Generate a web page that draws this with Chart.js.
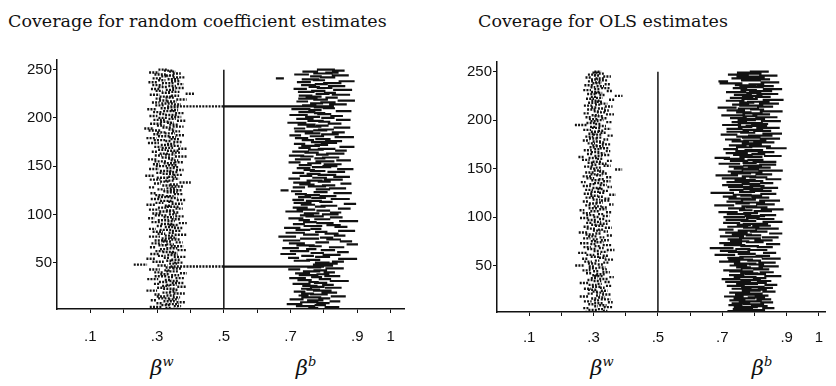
<!DOCTYPE html>
<html>
<head>
<meta charset="utf-8">
<script src="https://cdn.jsdelivr.net/npm/chart.js@4.4.0/dist/chart.umd.min.js"></script>
<style>
  body { margin: 0; background: #fff; width: 836px; height: 386px; overflow: hidden; position: relative; }
  .title { position: absolute; top: 11px; font-family: "DejaVu Serif", serif; font-size: 17.5px; white-space: nowrap; color: #111; }
  .box { position: absolute; top: 50px; height: 300px; }
  .beta { position: absolute; top: 354px; transform: translateX(-50%); font-family: "DejaVu Serif", serif; font-style: italic; font-size: 21px; color: #111; white-space: nowrap; }
  .beta sup { font-size: 13px; vertical-align: 9px; }
</style>
</head>
<body>
<div class="title" style="left:8px">Coverage for random coefficient estimates</div>
<div class="title" style="left:478px">Coverage for OLS estimates</div>

<div class="box" style="left:0; width:420px"><canvas id="rcChart"></canvas></div>
<div class="box" style="left:420px; width:416px"><canvas id="olsChart"></canvas></div>

<div class="beta" style="left:162px">β<sup>w</sup></div>
<div class="beta" style="left:306px">β<sup>b</sup></div>
<div class="beta" style="left:602px">β<sup>w</sup></div>
<div class="beta" style="left:762px">β<sup>b</sup></div>

<script>
// interval centres and widths, in thousandths, one per simulation (rows 1..250)
const rcWMid = [
  318,352,334,296,361,327,345,308,371,336,289,349,322,358,313,340,301,366,329,347,284,355,337,312,374,
  326,343,299,362,318,351,333,287,368,341,310,354,324,379,305,346,331,292,359,337,420,316,250,348,365,
  303,338,357,281,329,369,314,346,293,352,334,306,375,321,344,288,360,317,339,298,366,331,310,355,327,
  349,292,336,371,313,344,302,358,325,286,363,339,308,351,330,377,297,342,319,356,283,335,368,311,347,
  300,357,324,339,291,366,316,348,333,282,360,307,343,326,372,296,351,320,338,309,364,289,345,331,356,
  312,343,285,361,329,350,301,384,323,337,294,356,317,345,279,362,333,308,349,326,368,291,340,357,313,
  347,298,336,365,310,352,287,343,327,371,304,339,320,358,293,348,315,377,331,302,355,324,341,289,362,
  334,307,353,283,346,321,369,299,338,314,357,292,344,276,329,363,311,350,297,340,324,372,306,345,318,
  357,289,342,316,368,301,335,352,285,323,347,415,308,361,330,296,344,319,373,305,339,326,354,293,398,
  327,350,306,341,294,363,318,345,301,370,332,287,356,314,348,299,366,323,340,309,359,291,346,335,317
];
const rcWWid = [
  24,30,18,36,22,28,40,20,26,34,16,30,38,22,28,24,18,34,26,21,32,19,38,24,27,
  22,31,17,36,25,28,20,33,26,18,35,24,29,21,27,37,19,32,25,23,160,30,40,24,28,
  34,21,29,26,18,38,23,31,27,20,36,22,28,25,33,19,39,26,23,30,21,29,35,25,27,
  20,33,26,37,23,19,31,27,35,21,25,32,18,29,38,24,28,22,34,26,20,31,27,36,23,
  29,18,35,25,31,22,27,37,20,28,33,24,19,34,26,30,21,36,23,29,27,18,33,25,35,
  22,30,19,37,27,24,21,34,28,25,32,20,36,23,29,26,33,21,27,35,23,30,25,19,34,
  28,21,33,26,36,23,29,20,27,35,22,31,25,29,18,37,24,28,34,21,30,26,23,33,27,
  19,34,25,30,22,37,27,21,31,28,24,35,20,29,26,33,23,27,36,21,30,25,34,22,28,
  31,24,36,20,28,26,34,22,29,25,33,170,27,21,35,23,30,26,31,19,28,37,24,30,25,
  27,34,21,30,25,36,28,23,31,20,35,26,29,22,33,25,38,21,28,34,24,30,20,29,26
];
const rcBMid = [
  731,806,768,824,745,789,712,797,756,833,774,718,801,762,843,739,785,751,816,727,795,768,748,828,780,
  758,812,733,790,769,846,742,803,721,778,825,754,797,736,816,763,789,711,832,771,650,804,786,815,795,
  842,734,768,871,709,796,751,823,693,780,857,727,812,762,700,838,774,745,885,719,795,866,703,829,757,
  808,690,847,761,823,714,792,868,737,776,705,851,767,829,725,803,758,874,741,795,716,837,772,749,819,
  763,835,711,798,746,861,729,789,815,752,878,736,806,770,723,849,784,742,812,765,731,856,790,718,682,
  797,841,725,779,814,749,866,734,801,772,828,711,787,853,746,809,769,723,837,781,756,864,739,793,818,
  744,826,771,712,803,859,737,788,820,749,718,795,834,763,730,851,776,808,742,869,760,792,727,815,783,
  829,752,797,733,861,779,714,818,766,843,740,789,806,727,854,770,795,748,832,719,801,775,858,743,812,
  766,838,724,801,787,749,859,773,731,815,794,665,756,842,778,812,735,867,790,752,823,769,745,851,796,
  818,747,783,856,729,802,771,838,754,792,825,740,868,785,760,668,811,776,849,733,797,824,759,843,806
];
const rcBWid = [
  38,52,30,44,58,34,47,40,55,32,49,42,36,60,45,30,53,39,47,35,56,41,33,50,44,
  46,35,54,40,31,57,43,37,50,33,48,59,39,45,34,52,41,36,55,42,300,47,38,53,44,
  36,49,42,57,33,45,38,54,47,40,35,58,43,31,50,46,39,55,34,48,41,37,52,44,57,
  40,53,35,47,42,58,37,51,44,33,49,39,56,43,36,52,41,57,34,48,45,38,55,42,50,
  47,34,53,41,56,38,45,32,50,43,37,54,40,48,35,57,44,39,51,46,36,55,42,33,24,
  43,51,37,55,40,46,33,52,39,48,57,35,44,50,38,56,42,36,53,47,34,49,41,58,45,
  39,54,42,36,57,44,48,33,52,40,46,38,55,43,50,35,47,53,37,45,56,41,34,49,44,
  51,37,46,40,58,43,35,53,47,39,56,42,48,34,50,45,38,54,41,57,36,49,44,52,40,
  45,38,55,42,34,51,47,40,57,36,49,330,43,53,39,46,35,52,44,58,37,48,41,55,42,
  36,50,43,57,40,47,34,52,45,39,55,42,48,37,53,24,46,35,51,44,58,40,47,38,54
];
const olsWMid = [
  318,287,336,299,324,276,345,308,329,293,316,352,282,311,338,301,325,270,314,341,291,320,305,333,296,
  281,327,309,348,297,319,272,343,312,289,331,302,356,315,306,323,285,339,308,278,334,299,326,294,258,
  321,296,340,283,311,349,274,328,304,337,290,317,266,332,309,353,295,324,280,313,342,298,272,320,301,
  335,306,279,326,297,351,288,314,269,338,310,323,292,346,277,319,303,331,286,312,344,295,327,271,308,
  339,291,322,278,348,305,264,329,298,334,313,284,355,300,318,275,336,309,343,289,321,302,359,283,326,
  304,337,286,322,311,350,279,330,296,315,268,341,307,325,290,347,281,318,303,334,287,327,312,378,297,
  316,284,342,301,328,292,311,349,276,321,299,262,314,336,288,323,306,345,282,312,333,297,319,304,340,
  293,326,310,277,338,300,318,287,352,313,295,331,305,322,280,344,309,298,327,262,315,291,348,303,320,
  299,334,283,317,305,351,278,323,311,340,294,325,302,347,285,313,332,296,320,307,356,289,318,301,378,
  327,293,316,306,349,280,312,337,298,321,286,344,309,315,291,330,303,319,284,342,311,296,324,308,313
];
const olsWWid = [
  18,25,14,30,21,16,27,12,23,19,28,15,24,20,31,17,22,26,13,29,19,24,16,21,27,
  22,15,28,19,25,13,30,18,24,16,27,21,14,26,20,29,17,23,19,25,15,28,22,18,30,
  16,27,20,24,14,29,19,22,26,17,25,13,28,21,18,24,30,15,23,20,27,16,28,22,19,
  25,18,23,15,28,20,26,17,30,14,24,19,27,22,16,29,21,25,18,23,15,28,20,26,17,
  21,28,16,24,19,30,15,23,27,18,25,20,14,29,22,17,26,24,19,28,16,23,21,27,18,
  26,17,24,20,29,14,25,22,18,27,15,23,28,19,24,16,30,21,25,18,26,20,23,22,17,
  19,27,22,16,25,21,28,15,24,20,29,18,23,26,17,22,28,14,25,20,27,19,24,16,29,
  23,18,26,21,15,28,20,25,17,30,22,19,27,16,24,21,29,18,23,40,20,26,17,25,22,
  27,20,16,29,22,25,18,26,21,15,28,23,19,24,30,17,22,26,20,28,16,25,21,19,24,
  18,26,22,28,16,24,20,27,15,23,29,19,25,21,17,28,22,26,18,24,20,27,16,23,21
];
const olsBMid = [
  782,826,751,809,764,843,773,815,741,797,758,838,787,747,829,769,806,736,822,778,801,754,845,790,812,
  760,834,795,742,851,777,813,749,830,788,727,816,771,857,745,803,784,838,759,733,821,792,766,844,750,
  806,771,839,723,799,757,852,741,789,826,708,776,847,752,719,809,764,698,832,785,738,858,726,801,754,
  828,739,786,849,730,797,761,866,744,813,778,712,839,790,748,822,767,803,729,856,781,746,834,795,737,
  801,842,752,788,718,826,773,855,745,807,784,706,834,763,796,739,847,781,754,818,723,790,762,843,700,
  777,819,744,796,846,757,808,732,789,838,749,801,771,859,736,812,783,714,829,758,795,741,850,787,766,
  815,743,794,841,722,785,831,752,803,737,700,789,857,764,812,745,836,779,798,726,868,768,817,748,792,
  783,829,756,801,733,848,790,765,818,721,855,779,748,824,795,738,842,771,806,729,816,787,753,851,776,
  803,750,837,786,734,821,794,767,852,742,808,781,715,833,790,757,845,776,812,740,858,785,760,826,793,
  764,840,798,743,819,782,856,755,791,833,772,806,727,848,703,789,822,763,809,781,843,750,797,779,815
];
const olsBWid = [
  55,42,70,48,63,38,75,52,44,66,58,40,72,50,46,68,54,61,43,77,49,65,41,59,53,
  62,47,73,56,40,68,51,80,45,64,58,42,71,53,48,66,57,44,75,60,50,69,46,63,55,
  48,70,54,66,43,77,59,51,72,45,64,56,41,69,53,62,47,74,50,58,67,44,71,55,60,
  57,45,68,52,75,48,63,41,70,55,60,46,73,51,65,58,44,79,53,62,49,71,56,43,67,
  64,51,76,46,60,57,42,71,54,67,49,62,58,45,74,52,65,47,70,56,43,68,59,50,73,
  50,69,44,62,55,78,47,65,58,41,72,53,66,49,75,56,45,70,52,63,60,48,76,54,61,
  71,46,59,53,67,44,74,57,50,65,48,72,55,61,43,69,52,77,58,46,64,51,68,55,62,
  45,66,54,72,49,63,58,43,76,52,61,47,70,56,64,50,73,45,67,59,53,78,48,62,57,
  60,52,69,46,74,55,63,48,71,57,44,66,59,50,75,53,62,47,70,58,65,51,73,49,64,
  56,68,47,63,72,51,60,45,76,54,66,49,71,58,30,62,53,69,46,74,57,65,50,67,59
];

const xTicks = [0.1, 0.2, 0.3, 0.4, 0.5, 0.6, 0.7, 0.8, 0.9, 1.0];
const xTickLabels = ['.1', '', '.3', '', '.5', '', '.7', '', '.9', '1'];
const yTicks = [50, 100, 150, 200, 250];
const refValue = 0.5;

const ink = '#111';
const tickFont = { family: 'Liberation Sans', size: 15 };

// each interval is a short horizontal segment at its simulation number
function toSegments(mid, wid) {
  const pts = [];
  mid.forEach((m, i) => {
    const lo = (m - wid[i] / 2) / 1000;
    const hi = (m + wid[i] / 2) / 1000;
    pts.push({ x: lo, y: i + 1 }, { x: hi, y: i + 1 }, { x: hi, y: null });
  });
  return pts;
}

function makePanel(id, cfg) {
  const nRows = cfg.wMid.length;
  return new Chart(document.getElementById(id), {
    type: 'scatter',
    data: {
      datasets: [
        {
          data: toSegments(cfg.wMid, cfg.wWid),
          showLine: true,
          spanGaps: false,
          borderColor: ink,
          borderWidth: 2.4,
          borderDash: [2, 1.2],
          pointRadius: 0
        },
        {
          data: toSegments(cfg.bMid, cfg.bWid),
          showLine: true,
          spanGaps: false,
          borderColor: ink,
          borderWidth: cfg.bWidth,
          pointRadius: 0
        },
        {
          data: [{ x: refValue, y: 0 }, { x: refValue, y: nRows }],
          showLine: true,
          borderColor: ink,
          borderWidth: 1.5,
          pointRadius: 0
        }
      ]
    },
    options: {
      responsive: true,
      maintainAspectRatio: false,
      animation: false,
      events: [],
      layout: { padding: { top: cfg.top, right: cfg.right, left: 0, bottom: 0 } },
      plugins: { legend: { display: false }, tooltip: { enabled: false } },
      scales: {
        x: {
          type: 'linear',
          min: 0,
          max: cfg.xMax,
          afterBuildTicks: (s) => { s.ticks = xTicks.map(v => ({ value: v })); },
          afterFit: (s) => { s.height = cfg.xHeight; },
          grid: { display: true, drawOnChartArea: false, drawTicks: true, tickLength: 4, color: ink },
          border: { display: true, color: ink, width: 1.5 },
          ticks: {
            color: ink, font: tickFont, padding: cfg.xPad, maxRotation: 0, autoSkip: false,
            callback: (v, i) => xTickLabels[i]
          }
        },
        y: {
          type: 'linear',
          min: 2,
          max: 260,
          afterBuildTicks: (s) => { s.ticks = yTicks.map(v => ({ value: v })); },
          afterFit: (s) => { s.width = cfg.yWidth; },
          grid: { display: true, drawOnChartArea: false, drawTicks: true, tickLength: 4, color: ink },
          border: { display: true, color: ink, width: 1.5 },
          ticks: { color: ink, font: tickFont, padding: 1 }
        }
      }
    }
  });
}

makePanel('rcChart', {
  wMid: rcWMid, wWid: rcWWid, bMid: rcBMid, bWid: rcBWid, bWidth: 2.2,
  top: 10, right: 16, xMax: 1.04, xHeight: 41, xPad: 15, yWidth: 57
});
makePanel('olsChart', {
  wMid: olsWMid, wWid: olsWWid, bMid: olsBMid, bWid: olsBWid, bWidth: 2.2,
  top: 12, right: 0, xMax: 1.02, xHeight: 38, xPad: 13, yWidth: 77
});
</script>
</body>
</html>
